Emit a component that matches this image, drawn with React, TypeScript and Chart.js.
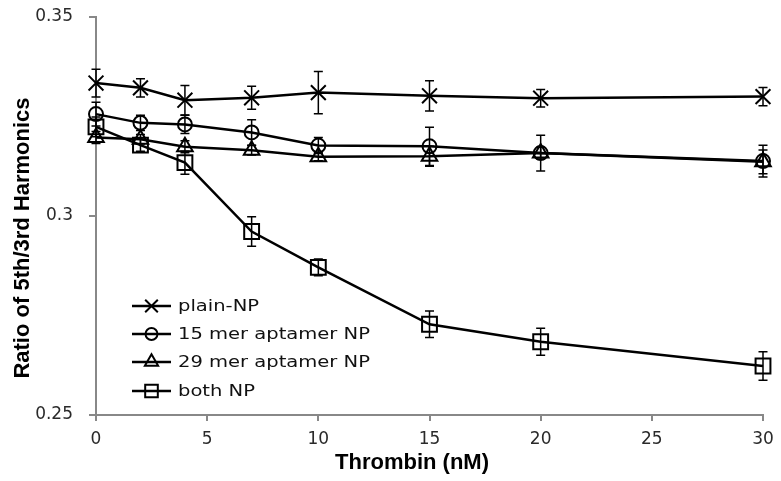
import React, { useEffect, useRef } from "react";
import { Chart, registerables } from "chart.js";

Chart.register(...registerables);

const thrombin = [0, 2, 4, 7, 10, 15, 20, 30];
const seriesNames = ["plain-NP", "15 mer aptamer NP", "29 mer aptamer NP", "both NP"];
const plainNP = [0.3334, 0.3322, 0.3291, 0.3297, 0.331, 0.3302, 0.3296, 0.33];
const plainErr = [0.0035, 0.0023, 0.0037, 0.0029, 0.0053, 0.0038, 0.0022, 0.0023];
const mer15NP = [0.3256, 0.3234, 0.323, 0.321, 0.3177, 0.3175, 0.3158, 0.3138];
const mer15Err = [0.003, 0.0019, 0.0023, 0.0032, 0.002, 0.0048, 0.0045, 0.004];
const mer29NP = [0.3197, 0.3193, 0.3174, 0.3165, 0.3149, 0.315, 0.3158, 0.3136];
const mer29Err = [0.0015, 0.0012, 0.0015, 0.0012, 0.001, 0.0025, 0.0015, 0.003];
const bothNP = [0.3224, 0.3178, 0.3134, 0.2961, 0.2871, 0.2728, 0.2684, 0.2623];
const bothErr = [0.0025, 0.0015, 0.0029, 0.0037, 0.0021, 0.0033, 0.0034, 0.0036];
const yTicks = [0.25, 0.3, 0.35];
const xTitle = "Thrombin (nM)";
const yTitle = "Ratio of 5th/3rd Harmonics";

const styles = [
  { pointStyle: "crossRot", radius: 10.5 },
  { pointStyle: "circle", radius: 7 },
  { pointStyle: "triangle", radius: 9 },
  { pointStyle: "rect", radius: 10.5 },
];
const errors = [plainErr, mer15Err, mer29Err, bothErr];
const values = [plainNP, mer15NP, mer29NP, bothNP];

function drawMarker(ctx: CanvasRenderingContext2D, style: string, r: number, x: number, y: number) {
  ctx.beginPath();
  if (style === "crossRot") {
    const d = r * Math.SQRT1_2;
    ctx.moveTo(x - d, y - d);
    ctx.lineTo(x + d, y + d);
    ctx.moveTo(x - d, y + d);
    ctx.lineTo(x + d, y - d);
  } else if (style === "circle") {
    ctx.arc(x, y, r, 0, Math.PI * 2);
  } else if (style === "triangle") {
    ctx.moveTo(x, y - r);
    ctx.lineTo(x + r * 0.866, y + r * 0.5);
    ctx.lineTo(x - r * 0.866, y + r * 0.5);
    ctx.closePath();
  } else {
    const s = r * Math.SQRT1_2;
    ctx.rect(x - s, y - s, 2 * s, 2 * s);
  }
  ctx.stroke();
}

const errorBarPlugin = {
  id: "errorBars",
  afterDatasetsDraw(chart: any) {
    const ctx = chart.ctx;
    const yScale = chart.scales.y;
    ctx.save();
    ctx.strokeStyle = "#000";
    ctx.lineWidth = 1.5;
    chart.data.datasets.forEach((ds: any, di: number) => {
      const meta = chart.getDatasetMeta(di);
      meta.data.forEach((pt: any, i: number) => {
        const v = ds.data[i].y;
        const e = errors[di][i];
        const x = pt.x;
        const y1 = yScale.getPixelForValue(v + e);
        const y2 = yScale.getPixelForValue(v - e);
        ctx.beginPath();
        ctx.moveTo(x, y1);
        ctx.lineTo(x, y2);
        ctx.moveTo(x - 4.5, y1);
        ctx.lineTo(x + 4.5, y1);
        ctx.moveTo(x - 4.5, y2);
        ctx.lineTo(x + 4.5, y2);
        ctx.stroke();
      });
    });
    ctx.restore();
  },
};

const legendPlugin = {
  id: "insideLegend",
  afterDraw(chart: any) {
    const ctx = chart.ctx;
    ctx.save();
    ctx.font = "16px 'DejaVu Sans'";
    const w = ctx.measureText("15 mer aptamer NP").width;
    const sx = 192 / w;
    const rows = [306, 334, 362, 391];
    seriesNames.forEach((name, i) => {
      const y = rows[i];
      ctx.strokeStyle = "#000";
      ctx.lineWidth = 2.5;
      ctx.beginPath();
      ctx.moveTo(132, y);
      ctx.lineTo(171, y);
      ctx.stroke();
      ctx.lineWidth = 2;
      drawMarker(ctx, styles[i].pointStyle, styles[i].radius * 0.85, 151.5, y);
      ctx.save();
      ctx.translate(178, y);
      ctx.scale(sx, 1);
      ctx.fillStyle = "#111";
      ctx.textBaseline = "middle";
      ctx.fillText(name, 0, 1);
      ctx.restore();
    });
    ctx.fillStyle = "#000";
    ctx.font = "bold 22px 'Liberation Sans'";
    ctx.textAlign = "center";
    ctx.textBaseline = "middle";
    ctx.fillText(xTitle, 412, 463);
    ctx.save();
    ctx.translate(23, 238);
    ctx.rotate(-Math.PI / 2);
    ctx.font = "bold 22px 'Liberation Sans'";
    ctx.fillText(yTitle, 0, 0);
    ctx.restore();
    ctx.restore();
  },
};

export default function App() {
  const ref = useRef<HTMLCanvasElement>(null);
  useEffect(() => {
    if (!ref.current) return;
    const chart = new Chart(ref.current, {
      type: "line",
      data: {
        datasets: values.map((vals, i) => ({
          label: seriesNames[i],
          data: thrombin.map((x, j) => ({ x, y: vals[j] })),
          borderColor: "#000",
          borderWidth: 2.5,
          backgroundColor: "rgba(0,0,0,0)",
          pointStyle: styles[i].pointStyle as any,
          pointRadius: styles[i].radius,
          pointBorderWidth: 2,
          pointBorderColor: "#000",
          pointBackgroundColor: "rgba(0,0,0,0)",
          tension: 0,
          clip: false as any,
        })),
      },
      options: {
        animation: false,
        responsive: false,
        layout: { autoPadding: false, padding: { top: 17, right: 18, bottom: 0, left: 0 } },
        plugins: { legend: { display: false }, tooltip: { enabled: false } },
        scales: {
          x: {
            type: "linear",
            min: 0,
            max: 30,
            afterFit: (s: any) => { s.height = 66; s.paddingLeft = 0; s.paddingRight = 0; },
            ticks: { stepSize: 5, color: "#2a2a2a", font: { family: "DejaVu Sans", size: 17 }, padding: 8, maxRotation: 0 },
            grid: { display: true, drawOnChartArea: false, tickLength: 6, color: "#888", lineWidth: 2 },
            border: { color: "#888", width: 2 },
          },
          y: {
            type: "linear",
            min: yTicks[0],
            max: yTicks[yTicks.length - 1],
            afterFit: (s: any) => { s.width = 96; s.paddingTop = 0; s.paddingBottom = 0; },
            afterBuildTicks: (s: any) => { s.ticks = yTicks.map((v) => ({ value: v })); },
            ticks: { color: "#2a2a2a", font: { family: "DejaVu Sans", size: 17 }, padding: 16, callback: (v: any) => String(v) },
            grid: { display: true, drawOnChartArea: false, tickLength: 7, color: "#888", lineWidth: 2 },
            border: { color: "#888", width: 2 },
          },
        },
      },
      plugins: [errorBarPlugin, legendPlugin],
    });
    return () => chart.destroy();
  }, []);
  return (
    <div style={{ position: "fixed", left: 0, top: 0 }}>
      <canvas ref={ref} width={781} height={481} style={{ width: 781, height: 481 }} />
    </div>
  );
}
